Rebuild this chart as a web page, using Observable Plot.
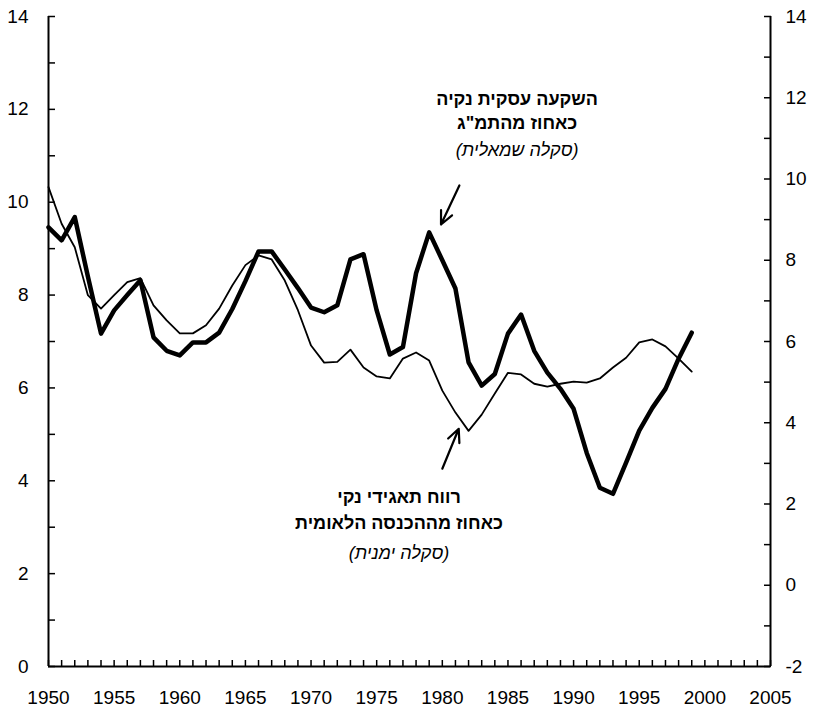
<!DOCTYPE html>
<html><head><meta charset="utf-8">
<script src="https://cdn.jsdelivr.net/npm/d3@7"></script>
<script src="https://cdn.jsdelivr.net/npm/@observablehq/plot@0.6"></script>
<style>body{margin:0;background:#fff}</style>
</head><body><div id="chart"></div>
<script>
const years = [1950,1951,1952,1953,1954,1955,1956,1957,1958,1959,1960,1961,1962,1963,1964,1965,1966,1967,1968,1969,1970,1971,1972,1973,1974,1975,1976,1977,1978,1979,1980,1981,1982,1983,1984,1985,1986,1987,1988,1989,1990,1991,1992,1993,1994,1995,1996,1997,1998,1999];
// Net business investment, % of GDP (left scale)
const investment = [9.46,9.18,9.68,8.4,7.17,7.67,8.0,8.32,7.09,6.8,6.7,6.98,6.98,7.19,7.7,8.3,8.94,8.94,8.55,8.15,7.73,7.63,7.78,8.77,8.88,7.67,6.72,6.88,8.47,9.35,8.75,8.14,6.55,6.05,6.3,7.17,7.58,6.8,6.33,5.98,5.55,4.6,3.85,3.72,4.39,5.08,5.57,5.98,6.63,7.19];
// Net corporate profit, % of national income (right scale)
const profit = [9.8,8.9,8.32,7.14,6.81,7.14,7.46,7.56,6.89,6.52,6.2,6.2,6.4,6.81,7.38,7.88,8.12,8.02,7.5,6.77,5.9,5.48,5.5,5.8,5.36,5.14,5.09,5.58,5.73,5.53,4.79,4.25,3.8,4.2,4.72,5.23,5.19,4.96,4.89,4.96,5.01,4.99,5.09,5.36,5.6,5.98,6.05,5.88,5.58,5.26];

const xLabelTicks = [1950,1955,1960,1965,1970,1975,1980,1985,1990,1995,2000,2005];
const leftLabelTicks = [0,2,4,6,8,10,12,14];
const rightLabelTicks = [-2,0,2,4,6,8,10,12,14];
const leftDomain = [0, 14];
const rightDomain = [-2, 14];

const boldNotes = [
  {text: "השקעה עסקית נקיה", x: 1985.7, y: 12.22},
  {text: "כאחוז מהתמ\"ג", x: 1985.7, y: 11.7},
  {text: "רווח תאגידי נקי", x: 1976.7, y: 3.64},
  {text: "כאחוז מההכנסה הלאומית", x: 1976.7, y: 3.08}
];
const italicNotes = [
  {text: "(סקלה שמאלית)", x: 1985.7, y: 11.13},
  {text: "(סקלה ימנית)", x: 1976.7, y: 2.43}
];
const arrows = [
  {x1: 1981.3, y1: 10.36, x2: 1979.9, y2: 9.52},
  {x1: 1980.0, y1: 4.26, x2: 1981.25, y2: 5.12}
];

const toLeft = r => (r - rightDomain[0]) * (leftDomain[1] - leftDomain[0]) / (rightDomain[1] - rightDomain[0]) + leftDomain[0];
const toRight = l => (l - leftDomain[0]) * (rightDomain[1] - rightDomain[0]) / (leftDomain[1] - leftDomain[0]) + rightDomain[0];

const invData = years.map((y, i) => ({year: y, v: investment[i]}));
const profData = years.map((y, i) => ({year: y, v: toLeft(profit[i])}));

const xMinor = d3.range(1950, 2006);
const leftMinor = d3.range(0, 15);
const rightMinor = d3.range(-2, 15).map(toLeft);

const font = "'Liberation Sans', Arial, Helvetica, sans-serif";

const chart = Plot.plot({
  width: 813, height: 708,
  marginLeft: 48, marginRight: 43, marginTop: 16, marginBottom: 42,
  x: {domain: [1950, 2005], label: null},
  y: {domain: leftDomain, label: null},
  style: {fontFamily: font, fontSize: "19px", color: "#000", background: "#fff", overflow: "visible"},
  marks: [
    Plot.axisY({anchor: "left", ticks: leftLabelTicks, tickSize: 0, tickPadding: 20, tickFormat: d => String(d), fontSize: 19}),
    Plot.axisY({anchor: "right", ticks: rightLabelTicks.map(toLeft), tickSize: 0, tickPadding: 15,
      tickFormat: d => String(Math.round(toRight(d))), fontSize: 19}),
    Plot.axisX({anchor: "bottom", ticks: xLabelTicks, tickSize: 0, tickPadding: 24, tickFormat: d => String(d), fontSize: 19}),
    Plot.axisY({anchor: "left", ticks: leftMinor, tickSize: 7, dx: 7, tickFormat: () => "", strokeWidth: 1.5}),
    Plot.axisY({anchor: "right", ticks: rightMinor, tickSize: 7, dx: -7, tickFormat: () => "", strokeWidth: 1.5}),
    Plot.axisX({anchor: "bottom", ticks: xMinor, tickSize: 6, dy: -6, tickFormat: () => "", strokeWidth: 1.5}),
    Plot.ruleX([1950, 2005], {stroke: "#000", strokeWidth: 2}),
    Plot.ruleY([0], {stroke: "#000", strokeWidth: 2}),
    Plot.line(profData, {x: "year", y: "v", stroke: "#000", strokeWidth: 1.8}),
    Plot.line(invData, {x: "year", y: "v", stroke: "#000", strokeWidth: 4.5}),
    Plot.arrow(arrows, {x1: "x1", y1: "y1", x2: "x2", y2: "y2", stroke: "#000", strokeWidth: 2.2, headLength: 11, headAngle: 50}),
    Plot.text(boldNotes, {x: "x", y: "y", text: "text", fontWeight: "bold", fontSize: 18, fill: "#000", textAnchor: "middle", fontFamily: font}),
    Plot.text(italicNotes, {x: "x", y: "y", text: "text", fontStyle: "italic", fontSize: 18, fill: "#000", textAnchor: "middle", fontFamily: font})
  ]
});
document.getElementById("chart").appendChild(chart);
</script>
</body></html>
